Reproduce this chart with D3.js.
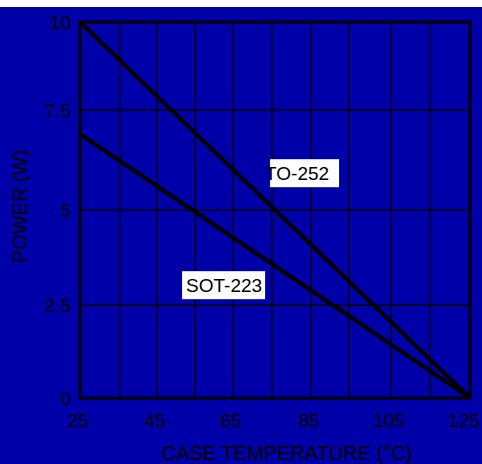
<!DOCTYPE html>
<html><head><meta charset="utf-8">
<script src="https://cdn.jsdelivr.net/npm/d3@7"></script>
<style>body{margin:0;background:#fff}svg{display:block}text{font-family:"Liberation Sans",Arial,sans-serif}</style>
</head><body><svg id="c" width="482" height="464"></svg>
<script>
const xTicks = [25,45,65,85,105,125];
const xGrid = [25,35,45,55,65,75,85,95,105,115,125];
const yTicks = [0,2.5,5,7.5,10];
const yTickLabels = ["0","2.5","5","7.5","10"];
const temps = [25,125];
const to252 = [10,0];
const sot223 = [6.9,0];
const seriesNames = ["TO-252","SOT-223"];

const svg = d3.select("#c");
svg.append("rect").attr("x",0).attr("y",7).attr("width",482).attr("height",457).attr("fill","#0000a8");

// scales (hand-drawn chart: gridlines not perfectly evenly spaced)
const x = d3.scaleLinear().domain(xGrid).range([80,120,157,195,233,272,311,349,391,430,470]);
const y = d3.scaleLinear().domain(yTicks).range([398,305,210,110,22]);

const g = svg.append("g");
// grid
g.selectAll(".vg").data(xGrid.slice(1,-1)).join("line")
 .attr("x1",d=>x(d)).attr("x2",d=>x(d)).attr("y1",y(10)).attr("y2",y(0))
 .attr("stroke","#000").attr("stroke-width",1.3);
g.selectAll(".hg").data(yTicks.slice(1,-1)).join("line")
 .attr("x1",x(25)).attr("x2",x(125)).attr("y1",d=>y(d)).attr("y2",d=>y(d))
 .attr("stroke","#000").attr("stroke-width",1.3);
// frame
g.append("rect").attr("x",x(25)).attr("y",y(10)).attr("width",x(125)-x(25)).attr("height",y(0)-y(10))
 .attr("fill","none").attr("stroke","#000").attr("stroke-width",3);

// lines
const line = d3.line().x((d,i)=>x(temps[i])).y(d=>y(d));
[to252,sot223].forEach(s=>{
  g.append("path").attr("d",line(s)).attr("fill","none").attr("stroke","#000").attr("stroke-width",4);
});

// y tick labels
g.selectAll(".yl").data(yTicks).join("text")
 .attr("x",71).attr("y",d=>y(d)).attr("dy","0.36em").attr("text-anchor","end")
 .attr("font-size",19).attr("fill","#000").text((d,i)=>yTickLabels[i]);
// x tick labels
g.selectAll(".xl").data(xTicks).join("text")
 .attr("x",d=>d===125?x(d)-6:x(d)-2).attr("y",427)
 .attr("text-anchor","middle")
 .attr("font-size",19).attr("fill","#000").text(d=>d);

// axis titles
g.append("text").attr("x",287).attr("y",460).attr("text-anchor","middle")
 .attr("font-size",20).attr("fill","#000").text("CASE TEMPERATURE (°C)");
g.append("text").attr("transform","translate(27,206.5) rotate(-90)").attr("text-anchor","middle")
 .attr("font-size",20).attr("fill","#000").text("POWER (W)");

// series labels (anchored in data coordinates)
function label(txt, xv, yv, bw, tdx){
  const bx = x(xv), by = y(yv);
  g.append("rect").attr("x",bx).attr("y",by).attr("width",bw).attr("height",28).attr("fill","#fff");
  g.append("text").attr("x",bx+tdx).attr("y",by+21).attr("font-size",19).attr("fill","#000").text(txt);
}
label(seriesNames[0], 74.5, 6.27, 69, -5);
label(seriesNames[1], 51.6, 3.39, 83, 4);
</script></body></html>
